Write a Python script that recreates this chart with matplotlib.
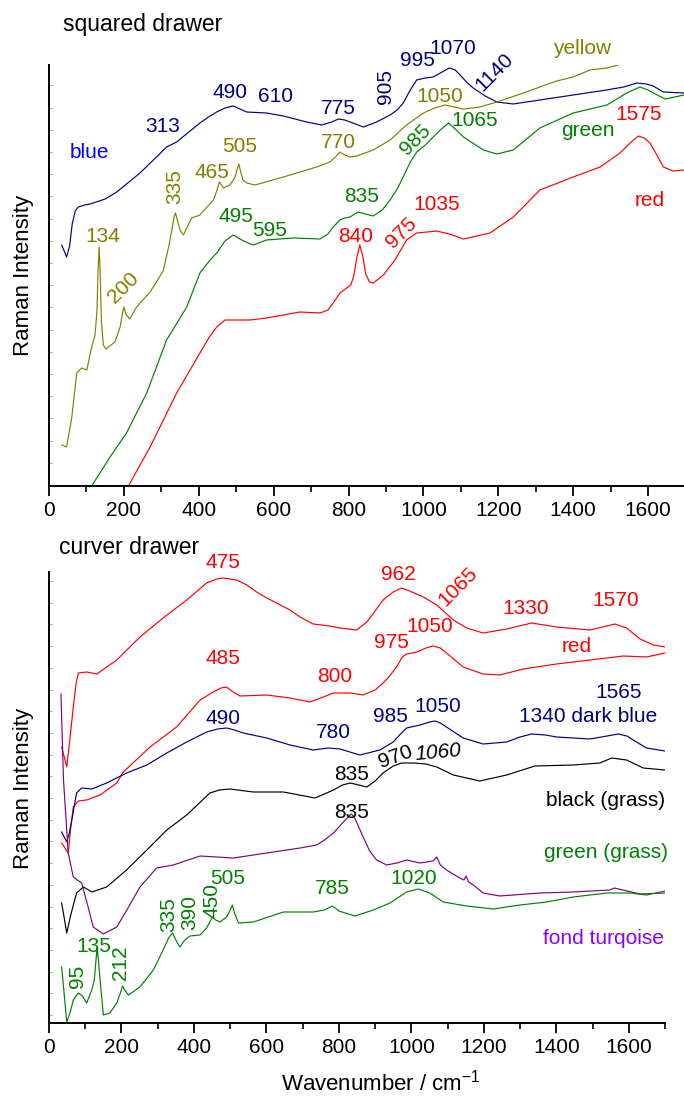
import matplotlib
matplotlib.use("Agg")
import matplotlib.pyplot as plt
import numpy as np
from matplotlib.ticker import MultipleLocator, FixedLocator

plt.rcParams['font.family'] = ['Liberation Sans', 'DejaVu Sans']
plt.rcParams['mathtext.fontset'] = 'custom'
plt.rcParams['mathtext.rm'] = 'Liberation Sans'
plt.rcParams['mathtext.it'] = 'Liberation Sans:italic'

# ---------------- squared drawer spectra (wavenumber / cm-1, intensity a.u.) ----------------
sq_blue_wn = [34, 47, 55, 62, 70, 78, 95, 110, 150, 181, 243, 290, 314, 341, 403, 430, 448, 470, 492,
              510, 528, 581, 626, 688, 728, 755, 773, 790, 804, 840, 875, 911, 930, 946, 965, 982,
              1005, 1026, 1050, 1069, 1085, 1098, 1115, 1133, 1165, 1196, 1240, 1311, 1400, 1489,
              1535, 1570, 1595, 1614, 1641, 1696]
sq_blue_int = [241, 229, 240, 262, 275, 279, 281, 282, 287, 294, 313, 330, 339, 344, 363, 370, 374, 378,
               380, 377, 374, 373, 370, 364, 361, 364, 367, 366, 364, 359, 364, 371, 376, 383, 396, 406,
               408, 409, 414, 418, 416, 411, 404, 398, 390, 384, 382, 386, 391, 396,
               399, 403, 402, 400, 394, 393]

sq_yellow_wn = [34, 47, 61, 74, 87, 101, 114, 123, 128, 131, 134, 137, 140, 145, 152, 176, 190, 196,
                200, 205, 216, 234, 270, 305, 320, 328, 334, 338, 344, 350, 359, 381, 403, 439, 449,
                455, 461, 466, 483, 496, 502, 507, 512, 518, 528, 550, 626, 715, 750, 765, 777, 790,
                804, 822, 866, 911, 955, 1000, 1030, 1058, 1107, 1151, 1196, 1267, 1311, 1356, 1400,
                1445, 1490, 1530]
sq_yellow_int = [41, 39, 69, 113, 118, 116, 139, 151, 175, 215, 239, 210, 165, 141, 137, 144, 159, 172,
                 179, 172, 167, 179, 194, 215, 240, 256, 269, 273, 264, 256, 251, 268, 271, 286, 296,
                 304, 301, 298, 301, 308, 316, 322, 314, 306, 303, 301, 309, 319, 324, 329, 334, 331,
                 329, 330, 336, 346, 361, 373, 378, 381, 377, 379, 384, 393, 399, 405, 409,
                 416, 418, 422]

sq_green_wn = [114, 163, 207, 261, 314, 368, 403, 430, 448, 470, 492, 515, 532, 546, 581, 653, 724,
               745, 759, 777, 790, 804, 826, 845, 866, 890, 911, 930, 946, 965, 982, 1005, 1026,
               1045, 1067, 1085, 1107, 1160, 1196, 1240, 1311, 1400, 1490, 1543, 1578, 1600, 1614,
               1646, 1696]
sq_green_int = [0, 29, 53, 93, 146, 179, 213, 226, 233, 245, 251, 246, 243, 241, 246, 248, 247,
                252, 259, 266, 268, 269, 274, 272, 270, 276, 286, 297, 309, 324, 334, 341, 349,
                356, 363, 357, 349, 336, 332, 336, 358, 373, 381, 393, 399, 396, 393,
                387, 391]

sq_red_wn = [212, 270, 341, 403, 430, 448, 470, 537, 581, 626, 670, 724, 745, 759, 777, 795, 806, 814,
             822, 830, 838, 846, 856, 866, 880, 893, 924, 955, 982, 1010, 1035, 1070, 1107, 1178,
             1240, 1311, 1400, 1472, 1525, 1555, 1574, 1590, 1605, 1625, 1641, 1667, 1696]
sq_red_int = [0, 39, 93, 133, 150, 159, 166, 166, 168, 171, 174, 173, 176, 183, 193, 198, 201, 210,
              228, 241, 230, 212, 204, 203, 207, 211, 226, 246, 253, 254, 255, 252, 247, 253,
              269, 296, 309, 319, 333, 344, 350, 348, 343, 330, 319, 315, 316]

# ---------------- curver drawer spectra ----------------
cv_red1_wn = [35, 49, 58, 67, 75, 81, 104, 132, 187, 251, 315, 380, 435, 463, 481, 518, 546, 573, 601,
              628, 665, 693, 729, 775, 803, 849, 877, 900, 922, 950, 973, 995, 1033, 1070, 1116, 1153,
              1198, 1263, 1332, 1401, 1493, 1562, 1594, 1631, 1668, 1700]
cv_red1_int = [276, 256, 285, 316, 340, 350, 351, 349, 363, 386, 405, 423, 440, 444, 445, 443, 438, 431,
               425, 420, 413, 406, 399, 397, 395, 393, 401, 412, 423, 431, 435, 432, 426, 418, 403, 395,
               390, 394, 400, 396, 393, 399, 395, 384, 378, 376]

cv_red2_wn = [35, 53, 60, 67, 81, 104, 141, 187, 205, 279, 352, 417, 453, 475, 490, 508, 527, 601, 665,
              720, 757, 785, 831, 867, 900, 922, 940, 959, 975, 987, 1015, 1040, 1060, 1080, 1097,
              1143, 1198, 1244, 1309, 1401, 1493, 1585, 1649, 1700]
cv_red2_int = [180, 170, 195, 216, 222, 223, 228, 240, 251, 276, 296, 323, 331, 335, 336, 331, 327, 328,
               325, 321, 326, 330, 330, 328, 333, 340, 347, 356, 366, 369, 371, 375, 377, 375, 370,
               356, 349, 348, 354, 359, 363, 367, 366, 370]

cv_navy_wn = [35, 49, 56, 63, 76, 90, 118, 159, 214, 270, 325, 380, 435, 465, 490, 512, 536, 601, 665,
              729, 771, 803, 858, 913, 950, 970, 987, 1024, 1050, 1065, 1080, 1097, 1143, 1198, 1263,
              1300, 1332, 1370, 1401, 1493, 1540, 1571, 1595, 1612, 1649, 1700]
cv_navy_int = [191, 181, 190, 203, 230, 235, 234, 240, 250, 258, 270, 281, 291, 294, 295, 293, 290, 285,
               278, 273, 275, 274, 268, 273, 281, 289, 295, 298, 301, 302, 300, 296, 285, 279, 281,
               286, 289, 288, 286, 284, 287, 289, 287, 283, 275, 272]

cv_black_wn = [35, 49, 60, 76, 95, 118, 159, 214, 270, 325, 380, 444, 470, 499, 564, 647, 734, 760,
               785, 810, 831, 855, 877, 900, 922, 950, 973, 1006, 1040, 1070, 1116, 1189, 1263, 1341,
               1447, 1520, 1553, 1594, 1640, 1700]
cv_black_int = [120, 90, 108, 130, 136, 131, 136, 153, 173, 193, 208, 230, 233, 234, 231, 231, 225, 229,
                233, 238, 240, 238, 236, 242, 250, 257, 260, 260, 259, 256, 248, 242, 248, 257,
                258, 260, 265, 263, 255, 253]

cv_purple_wn = [33, 40, 53, 67, 90, 108, 122, 150, 187, 210, 251, 297, 343, 417, 509, 601, 693, 739,
                760, 785, 800, 815, 828, 835, 845, 867, 885, 904, 932, 960, 987, 1024, 1060, 1070,
                1080, 1097, 1129, 1145, 1151, 1158, 1171, 1198, 1244, 1355, 1447, 1548, 1560, 1631,
                1700]
cv_purple_int = [329, 243, 170, 146, 140, 116, 96, 89, 96, 110, 136, 155, 158, 167, 165, 170, 175, 178,
                 183, 190, 196, 202, 207, 209, 204, 186, 172, 163, 158, 160, 163, 160, 162, 166,
                 158, 153, 146, 143, 147, 141, 138, 130, 127, 130, 131, 133, 135, 129,
                 130]

cv_green_wn = [35, 49, 58, 67, 81, 92, 104, 118, 125, 129, 133, 137, 141, 150, 168, 187, 197, 203, 209,
               219, 251, 288, 315, 330, 341, 350, 361, 375, 389, 417, 435, 445, 452, 460, 472, 490,
               500, 506, 512, 523, 564, 647, 729, 760, 782, 800, 844, 895, 941, 987, 1019, 1051, 1088,
               1153, 1226, 1300, 1373, 1447, 1539, 1603, 1649, 1700]
cv_green_int = [56, 1, 10, 23, 30, 27, 20, 33, 43, 60, 76, 60, 43, 8, 10, 20, 30, 37, 33,
                28, 36, 53, 73, 85, 90, 83, 76, 83, 87, 88, 95, 102, 106, 103, 101, 106,
                113, 118, 110, 100, 101, 111, 111, 113, 117, 112, 107, 113, 120, 131, 134, 130, 121,
                117, 114, 118, 121, 126, 130, 130, 128, 132]

NAVY, BLUE, OLIVE, GREEN, RED = '#000080', '#0000ff', '#808000', '#008000', '#ff0000'
PURPLE, VIOLET, BLACK = '#800080', '#8c00ff', '#000000'

# peak / sample annotations: (text, wavenumber, intensity, colour, rotation)
sq_labels = [
    ('blue', 107, 333, BLUE, 0), ('313', 304, 360, NAVY, 0), ('490', 483, 394, NAVY, 0),
    ('610', 606, 389, NAVY, 0), ('775', 774, 377, NAVY, 0), ('905', 900, 399, NAVY, 90),
    ('995', 983, 426, NAVY, 0), ('1070', 1079, 438, NAVY, 0), ('1140', 1189, 414, NAVY, 45),
    ('yellow', 1424, 438, OLIVE, 0), ('1050', 1044, 390, OLIVE, 0), ('770', 772, 343, OLIVE, 0),
    ('505', 510, 339, OLIVE, 0), ('465', 435, 314, OLIVE, 0), ('335', 337, 299, OLIVE, 90),
    ('134', 144, 249, OLIVE, 0), ('200', 198, 198, OLIVE, 45),
    ('495', 499, 269, GREEN, 0), ('595', 588, 256, GREEN, 0), ('835', 836, 289, GREEN, 0),
    ('985', 980, 346, GREEN, 45), ('1065', 1138, 365, GREEN, 0), ('green', 1440, 356, GREEN, 0),
    ('840', 820, 249, RED, 0), ('975', 940, 253, RED, 45), ('1035', 1036, 282, RED, 0),
    ('1575', 1576, 372, RED, 0), ('red', 1605, 286, RED, 0),
]

cv_labels = [
    ('475', 480, 460, RED, 0), ('962', 963, 449, RED, 0), ('1065', 1129, 436, RED, 45),
    ('1330', 1316, 414, RED, 0), ('1570', 1565, 422, RED, 0),
    ('485', 480, 364, RED, 0), ('800', 789, 346, RED, 0), ('975', 946, 381, RED, 0),
    ('1050', 1051, 396, RED, 0), ('red', 1457, 376, RED, 0),
    ('490', 480, 305, NAVY, 0), ('780', 784, 291, NAVY, 0), ('985', 941, 306, NAVY, 0),
    ('1050', 1073, 316, NAVY, 0), ('1565', 1573, 331, NAVY, 0), ('1340 dark blue', 1487, 307, NAVY, 0),
    ('835', 836, 248, BLACK, 0), ('970', 957, 266, BLACK, 20),
    ('black (grass)', 1537, 222, BLACK, 0),
    ('835', 836, 211, BLACK, 0),
    ('green (grass)', 1537, 170, GREEN, 0), ('1020', 1007, 144, GREEN, 0), ('785', 781, 134, GREEN, 0),
    ('505', 494, 145, GREEN, 0), ('450', 450, 123, GREEN, 90), ('390', 389, 111, GREEN, 90),
    ('335', 331, 108, GREEN, 90), ('135', 124, 77, GREEN, 0), ('95', 80, 47, GREEN, 90),
    ('212', 196, 60, GREEN, 90),
    ('fond turqoise', 1529, 85, VIOLET, 0),
]

W, H = 684, 1097
fig = plt.figure(figsize=(W / 100, H / 100), dpi=100)

def px_rect(left, top, right, bottom):
    return [left / W, 1 - bottom / H, (right - left) / W, (bottom - top) / H]

ax1 = fig.add_axes(px_rect(49, 65, 685.5, 486))
ax2 = fig.add_axes(px_rect(49, 572, 665, 1023))

FS = 15
LW = 0.85

def style(ax, ytop, ytick_step, ytick_start):
    ax.set_xlim(0, 1700)
    ax.set_ylim(0, ytop)
    for s in ('top', 'right'):
        ax.spines[s].set_visible(False)
    for s in ('left', 'bottom'):
        ax.spines[s].set_linewidth(1.4)
    ax.xaxis.set_major_locator(MultipleLocator(200))
    ax.xaxis.set_minor_locator(MultipleLocator(100))
    ax.tick_params(axis='x', which='major', direction='out', length=7, width=1.3, labelsize=FS, pad=4)
    ax.tick_params(axis='x', which='minor', direction='out', length=4, width=1.2)
    ax.yaxis.set_major_locator(FixedLocator(np.arange(ytick_start, ytop, ytick_step)))
    ax.tick_params(axis='y', which='major', direction='in', length=2.5, width=0.6,
                   color='#9a9a9a', labelleft=False)

style(ax1, 421, 22.2, 1)
style(ax2, 451, 21.7, 8)

ax1.plot(sq_blue_wn, sq_blue_int, color=NAVY, lw=LW)
ax1.plot(sq_yellow_wn, sq_yellow_int, color=OLIVE, lw=LW)
ax1.plot(sq_green_wn, sq_green_int, color=GREEN, lw=LW)
ax1.plot(sq_red_wn, sq_red_int, color=RED, lw=LW)

ax2.plot(cv_red1_wn, cv_red1_int, color=RED, lw=LW)
ax2.plot(cv_red2_wn, cv_red2_int, color=RED, lw=LW)
ax2.plot(cv_navy_wn, cv_navy_int, color=NAVY, lw=LW)
ax2.plot(cv_black_wn, cv_black_int, color=BLACK, lw=LW)
ax2.plot(cv_purple_wn, cv_purple_int, color=PURPLE, lw=LW)
ax2.plot(cv_green_wn, cv_green_int, color=GREEN, lw=LW)

for ax, labels in ((ax1, sq_labels), (ax2, cv_labels)):
    for txt, x, y, c, rot in labels:
        ax.text(x, y, txt, color=c, fontsize=FS, rotation=rot, ha='center', va='center',
                clip_on=False)

# slanted italic label on the black curve
ax2.text(1073, 271, '1060', color=BLACK, fontsize=FS, rotation=5, style='italic',
         ha='center', va='center')

fig.text(63 / W, 1 - 24 / H, 'squared drawer', fontsize=16.5, ha='left', va='center')
fig.text(59 / W, 1 - 547 / H, 'curver drawer', fontsize=16.5, ha='left', va='center')
fig.text(24 / W, 1 - 275 / H, 'Raman Intensity', fontsize=16, rotation=90, ha='center', va='center')
fig.text(24 / W, 1 - 788 / H, 'Raman Intensity', fontsize=16, rotation=90, ha='center', va='center')
fig.text(381 / W, 1 - 1083 / H, 'Wavenumber / cm$^{-1}$', fontsize=16, ha='center', va='center')

fig.savefig('out.png', dpi=100)
